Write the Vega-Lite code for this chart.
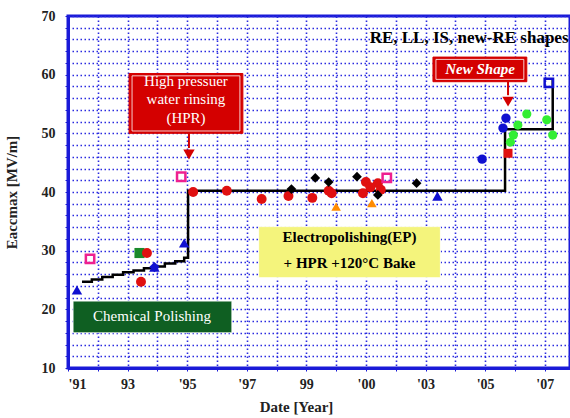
{
  "$schema": "https://vega.github.io/schema/vega-lite/v6.json",
  "width": 502,
  "height": 352,
  "autosize": {"type": "none"},
  "padding": {"left": 68, "top": 16, "right": 0, "bottom": 50},
  "background": "white",
  "config": {
    "view": {"stroke": "#1a1ad8", "strokeWidth": 3},
    "font": "Liberation Serif",
    "axis": {
      "labelFont": "Liberation Serif",
      "labelFontWeight": "bold",
      "labelFontSize": 14,
      "labelColor": "#222222",
      "titleFont": "Liberation Serif",
      "titleFontWeight": "bold",
      "titleFontSize": 15,
      "titleColor": "#222222",
      "domainColor": "#1a1ad8",
      "domainWidth": 3,
      "tickColor": "#1a1ad8",
      "tickSize": 3,
      "gridColor": "#2a2ae0",
      "gridDash": [1.5, 2.5],
      "gridWidth": 1.6
    }
  },
  "datasets": {
    "points": [
      {"year": 1991.3, "e": 23.3, "series": "blue_triangle"},
      {"year": 1993.9, "e": 27.2, "series": "blue_triangle"},
      {"year": 1994.9, "e": 31.3, "series": "blue_triangle"},
      {"year": 2003.4, "e": 39.3, "series": "blue_triangle"},
      {"year": 1993.9, "e": 27.2, "series": "blue_diamond"},
      {"year": 1993.4, "e": 29.6, "series": "green_square"},
      {"year": 1993.65, "e": 29.6, "series": "red_circle"},
      {"year": 1993.45, "e": 24.7, "series": "red_circle"},
      {"year": 1995.2, "e": 40.0, "series": "red_circle"},
      {"year": 1996.33, "e": 40.2, "series": "red_circle"},
      {"year": 1997.5, "e": 38.8, "series": "red_circle"},
      {"year": 1998.4, "e": 39.3, "series": "red_circle"},
      {"year": 1999.2, "e": 39.0, "series": "red_circle"},
      {"year": 1999.85, "e": 39.8, "series": "red_circle"},
      {"year": 1999.75, "e": 40.2, "series": "red_circle"},
      {"year": 2001.0, "e": 41.7, "series": "red_circle"},
      {"year": 2001.4, "e": 41.5, "series": "red_circle"},
      {"year": 2000.9, "e": 39.8, "series": "red_circle"},
      {"year": 2001.5, "e": 40.4, "series": "red_circle"},
      {"year": 2001.15, "e": 40.8, "series": "red_circle"},
      {"year": 1998.5, "e": 40.5, "series": "black_diamond"},
      {"year": 1999.3, "e": 42.4, "series": "black_diamond"},
      {"year": 1999.75, "e": 41.7, "series": "black_diamond"},
      {"year": 2000.7, "e": 42.6, "series": "black_diamond"},
      {"year": 2001.4, "e": 39.5, "series": "black_diamond"},
      {"year": 2002.7, "e": 41.5, "series": "black_diamond"},
      {"year": 2000.0, "e": 37.5, "series": "orange_triangle"},
      {"year": 2001.2, "e": 38.1, "series": "orange_triangle"},
      {"year": 2004.9, "e": 45.6, "series": "blue_circle"},
      {"year": 2005.7, "e": 52.6, "series": "blue_circle"},
      {"year": 2005.6, "e": 50.9, "series": "blue_circle"},
      {"year": 2006.4, "e": 53.3, "series": "green_circle"},
      {"year": 2006.1, "e": 51.4, "series": "green_circle"},
      {"year": 2005.95, "e": 49.7, "series": "green_circle"},
      {"year": 2005.85, "e": 48.5, "series": "green_circle"},
      {"year": 2007.07, "e": 52.3, "series": "green_circle"},
      {"year": 2007.27, "e": 49.7, "series": "green_circle"},
      {"year": 2005.77, "e": 46.6, "series": "red_square"}
    ],
    "hollow": [
      {"year": 1991.74, "e": 28.6, "series": "pink_square"},
      {"year": 1994.8, "e": 42.6, "series": "pink_square"},
      {"year": 2001.7, "e": 42.4, "series": "pink_square"},
      {"year": 2007.14, "e": 58.6, "series": "blue_square"}
    ],
    "trend": [
      {"year": 1991.47, "e": 24.7},
      {"year": 1991.8, "e": 25.1},
      {"year": 1992.15, "e": 25.5},
      {"year": 1992.5, "e": 25.9},
      {"year": 1992.85, "e": 26.3},
      {"year": 1993.2, "e": 26.6},
      {"year": 1993.55, "e": 27.0},
      {"year": 1993.9, "e": 27.3},
      {"year": 1994.25, "e": 27.8},
      {"year": 1994.6, "e": 28.2},
      {"year": 1994.9, "e": 28.8},
      {"year": 1995.03, "e": 40.2},
      {"year": 2005.67, "e": 50.7},
      {"year": 2007.27, "e": 59.1}
    ]
  },
  "encoding": {
    "x": {
      "field": "year", "type": "quantitative",
      "scale": {"domain": [1991, 2007.85], "nice": false, "zero": false},
      "axis": {
        "title": "Date [Year]",
        "titleX": 228,
        "titlePadding": 8,
        "values": [1991, 1992, 1993, 1994, 1995, 1996, 1997, 1998, 1999, 2000, 2001, 2002, 2003, 2004, 2005, 2006, 2007],
        "labelPadding": 6,
        "labelExpr": "datum.value == 1991 ? \"'91\" : datum.value == 1993 ? '93' : datum.value == 1995 ? \"'95\" : datum.value == 1997 ? \"'97\" : datum.value == 1999 ? '99' : datum.value == 2001 ? \"'00\" : datum.value == 2003 ? \"'03\" : datum.value == 2005 ? \"'05\" : datum.value == 2007 ? \"'07\" : ''"
      }
    },
    "y": {
      "field": "e", "type": "quantitative",
      "scale": {"domain": [10, 70], "nice": false, "zero": false},
      "axis": {
        "title": "Eaccmax [MV/m]",
        "titlePadding": 22,
        "values": [10, 12, 14, 16, 18, 20, 22, 24, 26, 28, 30, 32, 34, 36, 38, 40, 42, 44, 46, 48, 50, 52, 54, 56, 58, 60, 62, 64, 66, 68, 70],
        "labelPadding": 10,
        "labelExpr": "datum.value % 10 == 0 ? datum.value : ''"
      }
    }
  },
  "layer": [
    {
      "data": {"values": [
        {"box": "HPR", "x1": 1993.05, "x2": 1996.87, "y1": 50.0, "y2": 60.2},
        {"box": "NEW", "x1": 2003.25, "x2": 2006.4, "y1": 58.8, "y2": 63.0}
      ]},
      "mark": {"type": "rect", "fill": "#d40000", "stroke": "#d40000", "strokeWidth": 1},
      "encoding": {
        "x": {"field": "x1", "type": "quantitative"},
        "x2": {"field": "x2"},
        "y": {"field": "y1", "type": "quantitative"},
        "y2": {"field": "y2"}
      }
    },
    {
      "data": {"values": [
        {"box": "HPR", "x1": 1993.15, "x2": 1996.77, "y1": 50.4, "y2": 59.8},
        {"box": "NEW", "x1": 2003.35, "x2": 2006.3, "y1": 59.2, "y2": 62.6}
      ]},
      "mark": {"type": "rect", "fill": null, "stroke": "#ffffff", "strokeWidth": 0.8},
      "encoding": {
        "x": {"field": "x1", "type": "quantitative"},
        "x2": {"field": "x2"},
        "y": {"field": "y1", "type": "quantitative"},
        "y2": {"field": "y2"}
      }
    },
    {
      "data": {"values": [{"box": "CP", "x1": 1991.17, "x2": 1996.5, "y1": 16.0, "y2": 21.4}]},
      "mark": {"type": "rect", "fill": "#0f5f22", "stroke": "#ffffff", "strokeWidth": 0.8},
      "encoding": {
        "x": {"field": "x1", "type": "quantitative"},
        "x2": {"field": "x2"},
        "y": {"field": "y1", "type": "quantitative"},
        "y2": {"field": "y2"}
      }
    },
    {
      "data": {"values": [{"box": "EP", "x1": 1997.4, "x2": 2003.5, "y1": 25.4, "y2": 34.1}]},
      "mark": {"type": "rect", "fill": "#f4f47c", "stroke": "#ffffff", "strokeWidth": 0.8},
      "encoding": {
        "x": {"field": "x1", "type": "quantitative"},
        "x2": {"field": "x2"},
        "y": {"field": "y1", "type": "quantitative"},
        "y2": {"field": "y2"}
      }
    },
    {
      "data": {"name": "trend"},
      "mark": {"type": "line", "interpolate": "step-after", "color": "#000000", "strokeWidth": 2.5},
      "encoding": {}
    },
    {
      "data": {"values": [
        {"x": 1995.06, "y1": 50.0, "y2": 47.5},
        {"x": 2005.77, "y1": 58.8, "y2": 56.5}
      ]},
      "mark": {"type": "rule", "color": "#d40000", "strokeWidth": 2},
      "encoding": {
        "x": {"field": "x", "type": "quantitative"},
        "y": {"field": "y1", "type": "quantitative"},
        "y2": {"field": "y2"}
      }
    },
    {
      "data": {"values": [
        {"x": 1995.06, "y": 46.4},
        {"x": 2005.77, "y": 55.4}
      ]},
      "mark": {"type": "point", "shape": "triangle-down", "filled": true, "color": "#d40000", "size": 130, "opacity": 1},
      "encoding": {
        "x": {"field": "x", "type": "quantitative"},
        "y": {"field": "y", "type": "quantitative"}
      }
    },
    {
      "data": {"name": "points"},
      "mark": {"type": "point", "filled": true, "opacity": 1},
      "encoding": {
        "color": {"field": "series", "type": "nominal", "legend": null,
          "scale": {"domain": ["blue_triangle", "blue_diamond", "green_square", "red_circle", "black_diamond", "orange_triangle", "blue_circle", "green_circle", "red_square", "pink_square", "blue_square"],
                    "range": ["#1010d0", "#1010d0", "#1a8a2a", "#e01010", "#000000", "#ff8c00", "#1010d0", "#33ee33", "#e01010", "#ee2090", "#1010d0"]}},
        "shape": {"field": "series", "type": "nominal", "legend": null,
          "scale": {"domain": ["blue_triangle", "blue_diamond", "green_square", "red_circle", "black_diamond", "orange_triangle", "blue_circle", "green_circle", "red_square"],
                    "range": ["triangle-up", "diamond", "square", "circle", "diamond", "triangle-up", "circle", "circle", "square"]}},
        "size": {"field": "series", "type": "nominal", "legend": null,
          "scale": {"domain": ["blue_triangle", "blue_diamond", "green_square", "red_circle", "black_diamond", "orange_triangle", "blue_circle", "green_circle", "red_square"],
                    "range": [110, 80, 100, 75, 90, 120, 80, 80, 190]}}
      }
    },
    {
      "data": {"name": "hollow"},
      "mark": {"type": "point", "shape": "square", "filled": false, "strokeWidth": 2.5, "size": 70, "opacity": 1},
      "encoding": {
        "color": {"field": "series", "type": "nominal", "legend": null}
      }
    },
    {
      "data": {"values": [
        {"x": 1994.96, "y": 58.9, "label": "High pressuer"},
        {"x": 1994.96, "y": 55.9, "label": "water rinsing"},
        {"x": 1994.96, "y": 52.6, "label": "(HPR)"},
        {"x": 1993.82, "y": 18.8, "label": "Chemical Polishing"}
      ]},
      "mark": {"type": "text", "color": "#ffffff", "font": "Liberation Serif", "fontSize": 15, "align": "center", "baseline": "middle"},
      "encoding": {
        "x": {"field": "x", "type": "quantitative"},
        "y": {"field": "y", "type": "quantitative"},
        "text": {"field": "label"}
      }
    },
    {
      "data": {"values": [{"x": 2004.83, "y": 60.9, "label": "New Shape"}]},
      "mark": {"type": "text", "color": "#ffffff", "font": "Liberation Serif", "fontSize": 15, "fontStyle": "italic", "fontWeight": "bold", "align": "center", "baseline": "middle"},
      "encoding": {
        "x": {"field": "x", "type": "quantitative"},
        "y": {"field": "y", "type": "quantitative"},
        "text": {"field": "label"}
      }
    },
    {
      "data": {"values": [
        {"x": 2000.45, "y": 32.3, "label": "Electropolishing(EP)"},
        {"x": 2000.45, "y": 27.9, "label": "+ HPR +120°C Bake"}
      ]},
      "mark": {"type": "text", "color": "#000000", "font": "Liberation Serif", "fontSize": 15, "fontWeight": "bold", "align": "center", "baseline": "middle"},
      "encoding": {
        "x": {"field": "x", "type": "quantitative"},
        "y": {"field": "y", "type": "quantitative"},
        "text": {"field": "label"}
      }
    },
    {
      "data": {"values": [{"x": 2007.8, "y": 66.2, "label": "RE, LL, IS, new-RE shapes"}]},
      "mark": {"type": "text", "color": "#000000", "font": "Liberation Serif", "fontSize": 17, "fontWeight": "bold", "align": "right", "baseline": "middle"},
      "encoding": {
        "x": {"field": "x", "type": "quantitative"},
        "y": {"field": "y", "type": "quantitative"},
        "text": {"field": "label"}
      }
    }
  ]
}
